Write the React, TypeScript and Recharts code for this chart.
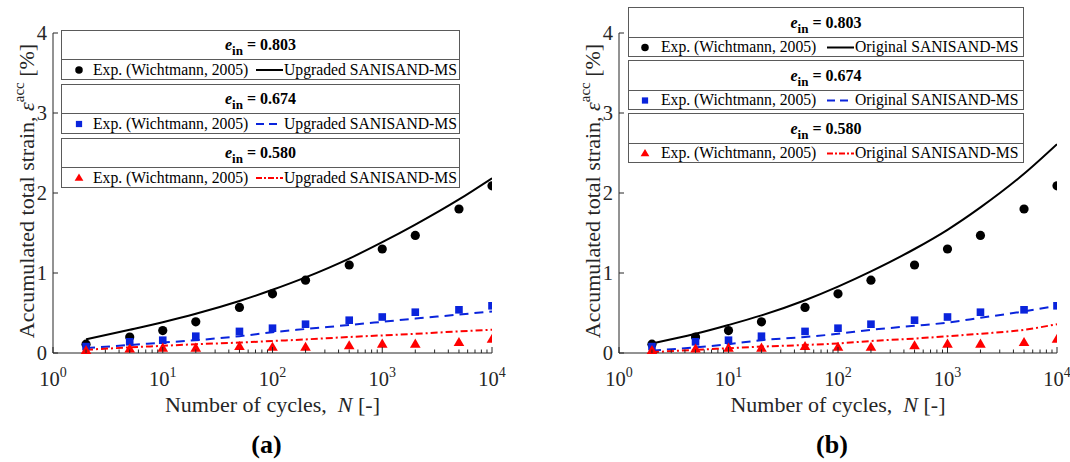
import { ComposedChart, Line, Scatter, XAxis, YAxis, Legend, Label } from 'recharts';

// number of cycles at which strains were recorded / computed
const cycles = [2, 5, 10, 20, 50, 100, 200, 500, 1000, 2000, 5000, 10000];

// experiments (Wichtmann, 2005), accumulated total strain in %
const expE0803 = [0.11, 0.2, 0.28, 0.39, 0.57, 0.74, 0.91, 1.1, 1.3, 1.47, 1.8, 2.09];
const expE0674 = [0.08, 0.14, 0.16, 0.21, 0.27, 0.31, 0.36, 0.41, 0.45, 0.51, 0.54, 0.59];
const expE0580 = [0.03, 0.05, 0.06, 0.06, 0.08, 0.07, 0.07, 0.09, 0.11, 0.11, 0.13, 0.17];

// upgraded SANISAND-MS simulations
const upgradedE0803 = [0.17, 0.29, 0.385, 0.49, 0.65, 0.79, 0.945, 1.18, 1.385, 1.605, 1.92, 2.185];
const upgradedE0674 = [0.06, 0.1, 0.13, 0.16, 0.21, 0.26, 0.3, 0.35, 0.39, 0.43, 0.48, 0.52];
const upgradedE0580 = [0.04, 0.07, 0.09, 0.11, 0.13, 0.15, 0.17, 0.2, 0.22, 0.24, 0.27, 0.29];

// original SANISAND-MS simulations
const originalE0803 = [0.12, 0.24, 0.35, 0.47, 0.66, 0.83, 1.02, 1.3, 1.54, 1.82, 2.24, 2.61];
const originalE0674 = [0.03, 0.07, 0.11, 0.16, 0.2, 0.24, 0.29, 0.34, 0.38, 0.44, 0.52, 0.59];
const originalE0580 = [0.01, 0.04, 0.06, 0.08, 0.1, 0.12, 0.15, 0.18, 0.21, 0.24, 0.29, 0.36];

const voidRatios = ['0.803', '0.674', '0.580'];
const xTicks = [
  1, 2, 3, 4, 5, 6, 7, 8, 9,
  10, 20, 30, 40, 50, 60, 70, 80, 90,
  100, 200, 300, 400, 500, 600, 700, 800, 900,
  1000, 2000, 3000, 4000, 5000, 6000, 7000, 8000, 9000,
  10000,
];
const yTicks = [0, 1, 2, 3, 4];

const FONT = '"Liberation Serif", "Times New Roman", serif';
const INK = '#262626';
const FRAME = '#5a5a5a';
const BLUE = '#0a24dc';
const RED = '#ff0000';

const seriesStyle = [
  { color: '#000', dash: undefined as string | undefined, marker: 'circle', keyDash: undefined as string | undefined, keyLen: 27 },
  { color: BLUE, dash: '9 6', marker: 'square', keyDash: '8 5', keyLen: 21 },
  { color: RED, dash: '7 3 2 3', marker: 'triangle', keyDash: '6 2 2 2', keyLen: 27 },
];

const buildRows = (model: number[][]) =>
  cycles.map((N, i) => ({
    N,
    exp0: expE0803[i],
    exp1: expE0674[i],
    exp2: expE0580[i],
    mod0: model[0][i],
    mod1: model[1][i],
    mod2: model[2][i],
  }));

const Marker = ({ kind, cx, cy, color, s = 1 }: any) => {
  if (kind === 'circle') return <circle cx={cx} cy={cy} r={4.6 * s} fill={color} />;
  if (kind === 'square') {
    const h = 3.8 * s;
    return <rect x={cx - h} y={cy - h} width={2 * h} height={2 * h} fill={color} />;
  }
  const r = 5.6 * s;
  return (
    <polygon
      points={`${cx},${cy - r} ${cx + r * 0.95},${cy + r * 0.62} ${cx - r * 0.95},${cy + r * 0.62}`}
      fill={color}
    />
  );
};

const LogTick = (props: any) => {
  const { x, y, payload } = props;
  const e = Math.log10(payload.value);
  const major = Math.abs(e - Math.round(e)) < 1e-9;
  return (
    <g>
      <line x1={x} y1={y} x2={x} y2={y - (major ? 6 : 3.5)} stroke={INK} strokeWidth={1} />
      {major && (
        <text x={x} y={y + 33} textAnchor="middle" fontFamily={FONT} fontSize={20.5} fill={INK}>
          10<tspan dy={-9} fontSize={14}>{Math.round(e)}</tspan>
        </text>
      )}
    </g>
  );
};

const LinTick = (props: any) => {
  const { x, y, payload } = props;
  return (
    <g>
      <line x1={x} y1={y} x2={x + 5} y2={y} stroke={INK} strokeWidth={1} />
      <text x={x - 6} y={y + 7} textAnchor="end" fontFamily={FONT} fontSize={20.5} fill={INK}>
        {payload.value}
      </text>
    </g>
  );
};

const YTitle = (props: any) => {
  const vb = props.viewBox;
  const x = vb.x + vb.width - 19;
  const cy = vb.y + vb.height / 2 - 2;
  return (
    <text
      transform={`translate(${x},${cy}) rotate(-90)`}
      textAnchor="middle"
      fontFamily={FONT}
      fontSize={22}
      fill={INK}
    >
      Accumulated total strain, <tspan fontStyle="italic">ε</tspan>
      <tspan dy={-10} fontSize={15}>acc</tspan>
      <tspan dy={10}> [%]</tspan>
    </text>
  );
};

const XTitle = ({ viewBox, tag }: any) => {
  const cx = viewBox.x + viewBox.width / 2;
  const y = viewBox.y;
  return (
    <g fontFamily={FONT}>
      <text x={cx} y={y + 59} textAnchor="middle" fontSize={22} fill={INK}>
        Number of cycles,{'\u00a0 '}<tspan fontStyle="italic">N</tspan> [-]
      </text>
      <text x={cx - 6} y={y + 100} textAnchor="middle" fontSize={26} fontWeight={700} fill="#000">
        {tag}
      </text>
    </g>
  );
};

const LegendBoxes = ({ geo, modelName }: any) => {
  const rowH = 50 - 2 - geo.headH - 1;
  const textStyle: any = {
    position: 'absolute',
    top: 0,
    lineHeight: `${rowH}px`,
    fontSize: 15.7,
    fontFamily: FONT,
    whiteSpace: 'nowrap',
  };
  return (
    <div style={{ width: geo.width, fontFamily: FONT, color: '#000' }}>
      {voidRatios.map((e, i) => {
        const st = seriesStyle[i];
        return (
          <div
            key={e}
            style={{
              boxSizing: 'border-box',
              height: 50,
              marginTop: i ? geo.gap : 0,
              border: `1px solid ${FRAME}`,
              background: '#fff',
            }}
          >
            <div
              style={{
                height: geo.headH,
                borderBottom: `1px solid ${FRAME}`,
                display: 'flex',
                alignItems: 'center',
                justifyContent: 'center',
                fontWeight: 700,
                fontSize: 16,
                lineHeight: '16px',
              }}
            >
              <span style={{ fontStyle: 'italic' }}>e</span>
              <span style={{ fontSize: 13, position: 'relative', top: 6 }}>in</span>
              <span>&nbsp;= {e}</span>
            </div>
            <div style={{ position: 'relative', height: rowH }}>
              <svg width={geo.width - 2} height={rowH} style={{ position: 'absolute', left: 0, top: 0 }}>
                <Marker kind={st.marker} cx={geo.mark} cy={rowH / 2 + 0.5} color={st.color} s={0.82} />
                <line
                  x1={geo.line}
                  x2={geo.line + st.keyLen}
                  y1={rowH / 2 + 0.5}
                  y2={rowH / 2 + 0.5}
                  stroke={st.color}
                  strokeWidth={2}
                  strokeDasharray={st.keyDash}
                />
              </svg>
              <span style={{ ...textStyle, left: geo.text1 }}>Exp. (Wichtmann, 2005)</span>
              <span style={{ ...textStyle, left: geo.text2 }}>{modelName}</span>
            </div>
          </div>
        );
      })}
    </div>
  );
};

const Panel = ({ cfg }: any) => {
  const rows = buildRows(cfg.model);
  return (
    <div style={{ position: 'absolute', left: cfg.left, top: 0 }}>
      <ComposedChart width={535} height={462} data={rows} margin={cfg.margin}>
        <XAxis
          dataKey="N"
          type="number"
          scale="log"
          domain={[1, 10000]}
          allowDataOverflow
          ticks={xTicks}
          interval={0}
          height={1}
          tickSize={0}
          tickMargin={0}
          tickLine={false}
          tick={<LogTick />}
          axisLine={{ stroke: INK, strokeWidth: 1 }}
        >
          <Label content={(p: any) => <XTitle {...p} tag={cfg.tag} />} />
        </XAxis>
        <YAxis
          type="number"
          domain={[0, 4]}
          ticks={yTicks}
          interval={0}
          width={1}
          tickSize={0}
          tickMargin={0}
          tickLine={false}
          tick={<LinTick />}
          axisLine={{ stroke: INK, strokeWidth: 1 }}
        >
          <Label content={(p: any) => <YTitle {...p} />} />
        </YAxis>
        <Legend
          verticalAlign="middle"
          layout="horizontal"
          wrapperStyle={{ left: cfg.legend.left, top: cfg.legend.top, width: cfg.legend.width }}
          content={() => <LegendBoxes geo={cfg.legend} modelName={cfg.modelName} />}
        />
        {seriesStyle.map((st, i) => (
          <Scatter
            key={`exp${i}`}
            dataKey={`exp${i}`}
            fill={st.color}
            isAnimationActive={false}
            shape={(p: any) => <Marker kind={st.marker} cx={p.cx} cy={p.cy} color={st.color} />}
          />
        ))}
        {seriesStyle.map((st, i) => (
          <Line
            key={`mod${i}`}
            type="monotone"
            dataKey={`mod${i}`}
            stroke={st.color}
            strokeWidth={2}
            strokeDasharray={st.dash}
            dot={false}
            activeDot={false}
            isAnimationActive={false}
          />
        ))}
      </ComposedChart>
    </div>
  );
};

const panels = [
  {
    left: 0,
    margin: { top: 33, right: 43, bottom: 108, left: 52 },
    model: [upgradedE0803, upgradedE0674, upgradedE0580],
    modelName: 'Upgraded SANISAND-MS',
    tag: '(a)',
    legend: { left: 61, top: 30, width: 399, gap: 4, headH: 28, mark: 17, text1: 31, line: 194, text2: 222 },
  },
  {
    left: 535,
    margin: { top: 33, right: 13, bottom: 108, left: 83 },
    model: [originalE0803, originalE0674, originalE0580],
    modelName: 'Original SANISAND-MS',
    tag: '(b)',
    legend: { left: 93, top: 7, width: 396, gap: 3, headH: 29, mark: 16, text1: 32, line: 198, text2: 226 },
  },
];

export default function App() {
  return (
    <div style={{ position: 'absolute', left: 0, top: 0, width: 1070, height: 462, background: '#fff' }}>
      {panels.map((cfg) => (
        <Panel key={cfg.tag} cfg={cfg} />
      ))}
    </div>
  );
}
